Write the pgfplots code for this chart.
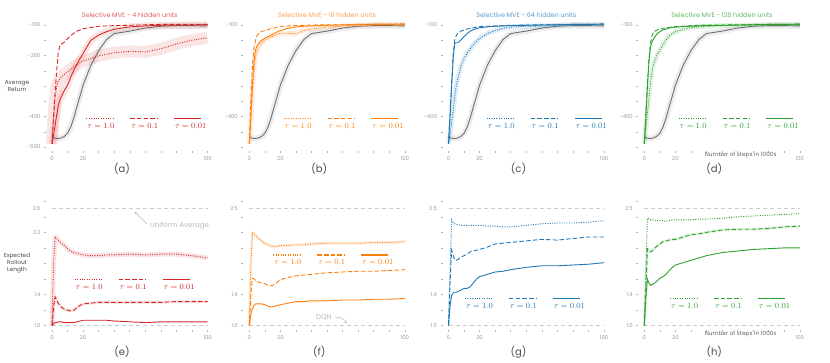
\documentclass[border=0pt]{standalone}
\usepackage[no-math]{fontspec}
\setmainfont{Poppins}
\usepackage{pgfplots}
\usepackage{pgfplotstable}
\pgfplotsset{compat=1.18}
\usetikzlibrary{arrows.meta}

\definecolor{cR}{RGB}{214,39,40}
\definecolor{cO}{RGB}{255,127,14}
\definecolor{cB}{RGB}{31,119,180}
\definecolor{cG}{RGB}{44,160,44}
\definecolor{cK}{RGB}{110,110,110}

% baseline (grey) average return
\pgfplotstableread{
x g
0 -468
1 -470
2 -471
3 -472
4 -472
5 -471
6 -470
8 -465
10 -455
12 -435
14 -405
16 -368
18 -333
20 -297
25 -232
30 -184
35 -148
40 -128
50 -120
60 -110
70 -104
80 -102
90 -102
100 -103
}\tabK

% average return: o = tau 1.0, d = tau 0.1, s = tau 0.01
\pgfplotstableread{
x o d s
0 -490 -490 -490
1 -400 -400 -460
2 -340 -320 -430
3 -300 -250 -395
4 -285 -190 -365
5 -278 -170 -347
6 -270 -163 -335
8 -262 -156 -314
10 -253 -145 -297
12 -245 -135 -272
14 -237 -127 -248
16 -230 -120 -228
18 -224 -116 -210
20 -218 -112 -193
25 -210 -108 -150
30 -201 -104 -133
35 -196 -103 -122
40 -191 -102 -114
50 -186 -101 -106
60 -188 -99 -103
70 -178 -98 -101
80 -162 -98 -100
90 -150 -98 -100
100 -142 -98 -99
}\tabA

\pgfplotstableread{
x o d s
0 -490 -490 -490
1 -420 -350 -400
2 -324 -236 -300
3 -250 -175 -220
4 -204 -149 -182
5 -185 -135 -168
6 -171 -127 -160
8 -158 -121 -150
10 -149 -118 -143
12 -144 -115 -138
14 -139 -112 -134
16 -134 -110 -128
18 -130 -107 -122
20 -127 -105 -118
25 -127 -103 -111
30 -129 -102 -106
35 -118 -101 -104
40 -113 -100 -103
50 -107 -99 -101
60 -103 -99 -100
70 -100 -98 -99
80 -99 -97 -98
90 -98 -97 -98
100 -97 -97 -97
}\tabB

\pgfplotstableread{
x o d s
0 -490 -490 -490
1 -460 -390 -400
2 -420 -291 -302
3 -380 -200 -210
4 -335 -149 -160
5 -300 -135 -158
6 -275 -127 -158
8 -235 -120 -149
10 -209 -116 -138
12 -192 -113 -128
14 -178 -111 -120
16 -165 -109 -115
18 -154 -107 -112
20 -144 -105 -109
25 -128 -104 -106
30 -118 -103 -104
35 -111 -102 -103
40 -107 -101 -102
50 -104 -100 -101
60 -103 -99 -100
70 -101 -99 -99
80 -99 -98 -98
90 -98 -98 -98
100 -97 -97 -97
}\tabC

\pgfplotstableread{
x o d s
0 -490 -490 -490
1 -440 -390 -400
2 -390 -291 -302
3 -340 -210 -220
4 -290 -160 -171
5 -250 -135 -155
6 -228 -122 -145
8 -200 -117 -130
10 -182 -114 -122
12 -165 -111 -116
14 -148 -109 -113
16 -135 -108 -110
18 -128 -106 -108
20 -122 -105 -107
25 -114 -104 -105
30 -109 -102 -104
35 -106 -101 -103
40 -104 -100 -102
50 -102 -100 -101
60 -101 -99 -100
70 -100 -99 -99
80 -99 -98 -98
90 -99 -98 -98
100 -98 -97 -97
}\tabD

% expected rollout length
\pgfplotstableread{
x o d s
0 1.00 1.00 1.00
1 1.80 1.24 1.03
2 2.14 1.37 1.04
3 2.12 1.33 1.04
4 2.10 1.29 1.05
5 2.08 1.26 1.05
6 2.06 1.24 1.05
8 2.03 1.21 1.04
10 1.99 1.20 1.04
12 1.96 1.19 1.04
14 1.94 1.20 1.04
16 1.93 1.23 1.05
18 1.92 1.26 1.06
20 1.91 1.28 1.07
25 1.90 1.29 1.07
30 1.90 1.30 1.07
35 1.91 1.30 1.07
40 1.91 1.30 1.06
50 1.92 1.30 1.05
60 1.91 1.30 1.04
70 1.92 1.30 1.05
80 1.92 1.31 1.05
90 1.90 1.31 1.05
100 1.87 1.31 1.05
}\tabE

\pgfplotstableread{
x o d s
0 1.00 1.00 1.00
1 1.80 1.40 1.15
2 2.20 1.61 1.22
3 2.18 1.60 1.26
4 2.16 1.58 1.28
5 2.14 1.57 1.28
6 2.12 1.56 1.28
8 2.09 1.55 1.28
10 2.06 1.54 1.27
12 2.04 1.52 1.25
14 2.02 1.51 1.24
16 2.02 1.53 1.25
18 2.02 1.56 1.26
20 2.03 1.59 1.27
25 2.03 1.62 1.29
30 2.04 1.64 1.31
35 2.04 1.65 1.31
40 2.05 1.66 1.32
50 2.06 1.68 1.32
60 2.06 1.69 1.33
70 2.06 1.70 1.33
80 2.07 1.70 1.34
90 2.07 1.71 1.34
100 2.08 1.72 1.35
}\tabF

\pgfplotstableread{
x o d s
0 1.00 1.00 1.00
1 1.70 1.55 1.25
2 2.36 1.97 1.39
3 2.33 1.90 1.42
4 2.31 1.85 1.43
5 2.30 1.84 1.43
6 2.30 1.85 1.44
8 2.29 1.88 1.46
10 2.29 1.90 1.48
12 2.29 1.92 1.48
14 2.29 1.95 1.50
16 2.29 1.96 1.55
18 2.29 1.97 1.60
20 2.29 1.98 1.63
25 2.28 2.01 1.66
30 2.28 2.05 1.69
35 2.27 2.06 1.70
40 2.27 2.07 1.72
50 2.29 2.09 1.75
60 2.31 2.11 1.77
70 2.32 2.10 1.77
80 2.32 2.12 1.78
90 2.33 2.14 1.79
100 2.35 2.14 1.81
}\tabG

\pgfplotstableread{
x o d s
0 1.00 1.00 1.00
1 1.70 1.50 1.35
2 2.38 1.99 1.60
3 2.37 1.97 1.55
4 2.36 1.95 1.52
5 2.36 1.96 1.53
6 2.36 1.98 1.54
8 2.35 2.02 1.57
10 2.35 2.05 1.61
12 2.35 2.08 1.63
14 2.34 2.09 1.66
16 2.35 2.10 1.71
18 2.36 2.11 1.75
20 2.36 2.11 1.78
25 2.36 2.14 1.81
30 2.36 2.17 1.84
35 2.37 2.18 1.87
40 2.37 2.20 1.90
50 2.38 2.23 1.94
60 2.40 2.24 1.96
70 2.41 2.24 1.98
80 2.42 2.25 1.99
90 2.43 2.27 2.00
100 2.44 2.28 2.00
}\tabH

\pgfplotsset{
  panel/.style={
    scale only axis, width=155.5pt, xmin=0, xmax=100, clip=false,
    axis x line=bottom, axis y line=left,
    axis line style={draw=none,-},
    axis x line shift=5pt, axis y line shift=7pt,
    xtick={0,10,...,100}, xticklabels={0,,20,,,,,,,,100},
    major tick length=2pt, tick align=center,
    tick style={gray!60, line width=0.5pt},
    tick label style={font=\fontsize{5.3}{6}\selectfont, text=gray!80},
    /pgf/number format/assume math mode=true,
    title style={font=\fontsize{6.4}{7}\selectfont, at={(0.5,1)}, anchor=center, yshift=2pt},
    xlabel style={font=\fontsize{10}{11}\selectfont, text=black!70,
      at={(axis description cs:0.45,0)}, anchor=center},
    ylabel style={font=\fontsize{5.8}{7}\selectfont, text=black!70, rotate=-90,
      align=center, anchor=center},
    legend style={draw=none, fill=none, legend columns=3,
      font=\fontsize{8.3}{9}\selectfont, anchor=center, inner sep=0pt},
    legend image code/.code={\draw[#1, line width=1.3pt, overlay] (1pt,7.8pt) -- (28pt,7.8pt);},
  },
  top/.style={panel, height=123.5pt, ymin=-500, ymax=-95,
    ytick={-500,-450,-400,-350,-300,-250,-200,-150,-100},
    yticklabels={,,-400,,,,,,-100},
    xlabel style={yshift=-22pt}},
  bot/.style={panel, height=124.5pt, ymin=1, ymax=2.6,
    ytick={1.0,1.2,1.4,1.6,1.8,2.0,2.2,2.4,2.6},
    yticklabels={1.0,,1.4,,,,,,},
    extra y ticks={2.5}, extra y tick labels={2.5},
    extra y tick style={tick style={draw=none}},
    xlabel style={yshift=-26pt}},
  so/.style={line width=0.9pt, dash pattern=on 1pt off 1.4pt},
  sd/.style={line width=0.9pt, dash pattern=on 4.5pt off 2.2pt},
  ss/.style={line width=0.9pt},
  band/.style={line width=#1, draw opacity=0.12, forget plot, line join=round},
  refl/.style={gray!40, line width=1pt, dash pattern=on 4pt off 3pt, forget plot},
}

\newcommand{\taulegend}{\legend{$\tau = 1.0$\hspace*{13pt}, $\tau = 0.1$\hspace*{13pt}, $\tau = 0.01$}}

\begin{document}
\begin{tikzpicture}
\useasboundingbox (0,0) rectangle (830pt,362pt);

% ---------- top row: average return ----------
\begin{axis}[top, at={(52pt,215pt)}, anchor=south west,
    title={Selective MVE - 4 hidden units}, title style={text=cR!75},
    xlabel={(a)}, ylabel={Average\\Return},
    ylabel style={at={(axis description cs:-0.225,0.49)}},
    yticklabels={-500,,-400,,,,-200,,-100},
    legend style={at={(axis cs:61,-433)}, text=cR}]
\addplot[band=6pt, cK] table[y=g]{\tabK};
\addplot[cK, ss, forget plot] table[y=g]{\tabK};
\addplot[band=12pt, cR] table[y=o]{\tabA};
\addplot[band=7pt, cR] table[y=s]{\tabA};
\addplot[cR, so] table[y=o]{\tabA};
\addplot[cR, sd] table[y=d]{\tabA};
\addplot[cR, ss] table[y=s]{\tabA};
\taulegend
\end{axis}

\begin{axis}[top, at={(249.3pt,215pt)}, anchor=south west,
    title={Selective MVE - 16 hidden units}, title style={text=cO!75},
    xlabel={(b)},
    legend style={at={(axis cs:61,-433)}, text=cO}]
\addplot[band=6pt, cK] table[y=g]{\tabK};
\addplot[cK, ss, forget plot] table[y=g]{\tabK};
\addplot[band=5pt, cO] table[y=o]{\tabB};
\addplot[cO, so] table[y=o]{\tabB};
\addplot[cO, sd] table[y=d]{\tabB};
\addplot[cO, ss] table[y=s]{\tabB};
\taulegend
\end{axis}

\begin{axis}[top, at={(448.5pt,215pt)}, anchor=south west,
    title={Selective MVE - 64 hidden units}, title style={text=cB!75},
    xlabel={(c)},
    legend style={at={(axis cs:63.5,-433)}, text=cB}]
\addplot[band=6pt, cK] table[y=g]{\tabK};
\addplot[cK, ss, forget plot] table[y=g]{\tabK};
\addplot[band=5pt, cB] table[y=o]{\tabC};
\addplot[cB, so] table[y=o]{\tabC};
\addplot[cB, sd] table[y=d]{\tabC};
\addplot[cB, ss] table[y=s]{\tabC};
\taulegend
\end{axis}

\begin{axis}[top, at={(644.3pt,215pt)}, anchor=south west,
    title={Selective MVE - 128 hidden units}, title style={text=cG!75},
    xlabel={(d)},
    legend style={at={(axis cs:61,-433)}, text=cG}]
\addplot[band=6pt, cK] table[y=g]{\tabK};
\addplot[cK, ss, forget plot] table[y=g]{\tabK};
\addplot[band=5pt, cG] table[y=o]{\tabD};
\addplot[cG, so] table[y=o]{\tabD};
\addplot[cG, sd] table[y=d]{\tabD};
\addplot[cG, ss] table[y=s]{\tabD};
\taulegend
\node[font=\fontsize{5.8}{7}\selectfont, text=black!60, yshift=-8pt]
  at (axis description cs:0.62,0) {Number of steps in 1000s};
\end{axis}

% ---------- bottom row: expected rollout length ----------
\begin{axis}[bot, at={(52pt,36.3pt)}, anchor=south west,
    xlabel={(e)}, ylabel={Expected\\Rollout\\Length},
    ylabel style={at={(axis description cs:-0.225,0.5)}},
    yticklabels={1.0,,1.4,,,,2.2,,},
    legend style={at={(axis cs:53.5,1.494)}, text=cR}]
\addplot[refl] coordinates {(0,2.5) (100,2.5)};
\addplot[refl] coordinates {(0,1.0) (100,1.0)};
\addplot[band=5pt, cR] table[y=o]{\tabE};
\addplot[band=3pt, cR] table[y=d]{\tabE};
\addplot[cR, so] table[y=o]{\tabE};
\addplot[cR, sd] table[y=d]{\tabE};
\addplot[cR, ss] table[y=s]{\tabE};
\taulegend
\node[font=\fontsize{7}{8}\selectfont, text=gray!55] at (axis cs:82,2.28) {Uniform Average};
\draw[-{Stealth[length=3pt,width=2pt]}, gray!55, line width=0.5pt]
  (axis cs:61,2.31) -- (axis cs:53,2.465);
\end{axis}

\begin{axis}[bot, at={(249.3pt,36.3pt)}, anchor=south west,
    xlabel={(f)},
    legend style={at={(axis cs:54.4,1.81)}, text=cO}]
\addplot[refl] coordinates {(0,2.5) (100,2.5)};
\addplot[refl] coordinates {(0,1.0) (100,1.0)};
\addplot[band=3pt, cO] table[y=o]{\tabF};
\addplot[cO, so] table[y=o]{\tabF};
\addplot[cO, sd] table[y=d]{\tabF};
\addplot[cO, ss] table[y=s]{\tabF};
\taulegend
\node[font=\fontsize{7}{8}\selectfont, text=gray!55] at (axis cs:48,1.108) {DQN};
\draw[-{Stealth[length=3pt,width=2pt]}, gray!55, line width=0.5pt]
  (axis cs:55,1.11) to[out=0,in=90] (axis cs:62,1.02);
\end{axis}

\begin{axis}[bot, at={(448.5pt,36.3pt)}, anchor=south west,
    xlabel={(g)},
    legend style={at={(axis cs:49.5,1.245)}, text=cB}]
\addplot[refl] coordinates {(0,2.5) (100,2.5)};
\addplot[refl] coordinates {(0,1.0) (100,1.0)};
\addplot[cB, so] table[y=o]{\tabG};
\addplot[cB, sd] table[y=d]{\tabG};
\addplot[cB, ss] table[y=s]{\tabG};
\taulegend
\end{axis}

\begin{axis}[bot, at={(644.3pt,36.3pt)}, anchor=south west,
    xlabel={(h)},
    legend style={at={(axis cs:55.5,1.245)}, text=cG}]
\addplot[refl] coordinates {(0,2.5) (100,2.5)};
\addplot[refl] coordinates {(0,1.0) (100,1.0)};
\addplot[band=3pt, cG] table[y=d]{\tabH};
\addplot[cG, so] table[y=o]{\tabH};
\addplot[cG, sd] table[y=d]{\tabH};
\addplot[cG, ss] table[y=s]{\tabH};
\taulegend
\node[font=\fontsize{5.8}{7}\selectfont, text=black!60, yshift=-8pt]
  at (axis description cs:0.62,0) {Number of steps in 1000s};
\end{axis}
\end{tikzpicture}
\end{document}
